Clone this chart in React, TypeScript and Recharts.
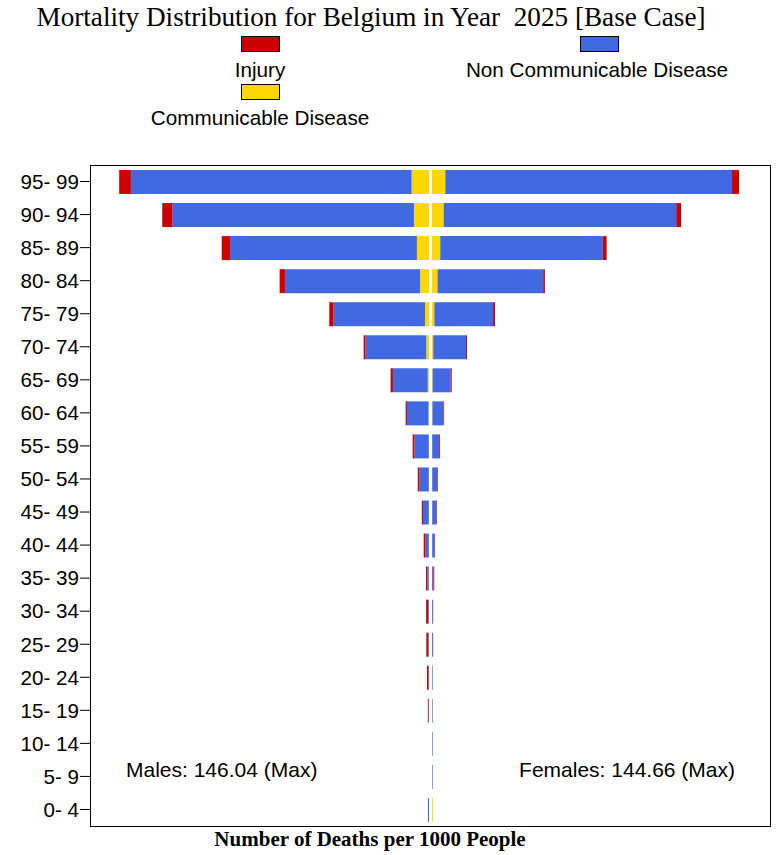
import { Bar, BarChart, XAxis, YAxis, Rectangle } from "recharts";

const ageGroups = [
  "95- 99", "90- 94", "85- 89", "80- 84", "75- 79", "70- 74", "65- 69",
  "60- 64", "55- 59", "50- 54", "45- 49", "40- 44", "35- 39", "30- 34",
  "25- 29", "20- 24", "15- 19", "10- 14", "5- 9", "0- 4",
];

// deaths per 1000, males
const maleInjury = [5.5, 4.7, 3.9, 2.5, 2.0, 0.9, 1.1, 0.6, 0.8, 0.8, 0.6, 0.8, 0.6, 0.9, 0.9, 0.7, 0.4, 0, 0, 0];
const maleNcd = [132.3, 113.9, 88.1, 63.7, 43.1, 28.6, 16.4, 10.2, 6.8, 4.4, 2.7, 1.6, 0.7, 0.4, 0.3, 0.2, 0.1, 0, 0, 0.5];
const maleComm = [8.2, 7.1, 5.7, 4.2, 1.9, 1.3, 0.6, 0.2, 0.1, 0.1, 0.1, 0.1, 0.1, 0.05, 0.05, 0.05, 0.05, 0, 0, 0];

// deaths per 1000, females
const femaleInjury = [3.3, 2.3, 1.8, 0.8, 0.9, 0.5, 0.5, 0.3, 0.4, 0.3, 0.3, 0.3, 0.4, 0.1, 0.1, 0, 0, 0, 0, 0];
const femaleNcd = [135.1, 109.6, 76.6, 49.8, 27.7, 15.4, 8.5, 5.2, 3.3, 2.4, 1.9, 1.0, 0.6, 0.4, 0.4, 0.3, 0.3, 0.3, 0.3, 0];
const femaleComm = [6.3, 5.5, 3.9, 2.6, 1.1, 0.6, 0.3, 0.2, 0.1, 0.1, 0.1, 0.1, 0.05, 0.05, 0.05, 0.05, 0.05, 0.05, 0.05, 0.4];

const data = ageGroups.map((age, i) => ({
  age,
  mComm: -maleComm[i],
  mNcd: -maleNcd[i],
  mInj: -maleInjury[i],
  fComm: femaleComm[i],
  fNcd: femaleNcd[i],
  fInj: femaleInjury[i],
}));

const RED = "#CC0000";
const BLUE = "#4169E1";
const YELLOW = "#FFD700";

const sans = "'Liberation Sans', Arial, sans-serif";
const serif = "'Liberation Serif', 'Times New Roman', serif";

// male bars nudged left, female right -> small white gap at the centre
const leftShape = (p: any) => <Rectangle {...p} x={p.x - 1.5} />;
const rightShape = (p: any) => <Rectangle {...p} x={p.x + 1.5} />;

const swatch = (left: number, top: number, color: string) => (
  <div
    style={{
      position: "absolute",
      left,
      top,
      width: 39,
      height: 16,
      background: color,
      border: "1px solid #000",
      boxSizing: "border-box",
    }}
  />
);

const label = (text: string, center: number, top: number) => (
  <div
    style={{
      position: "absolute",
      left: center - 200,
      width: 400,
      top,
      textAlign: "center",
      fontFamily: sans,
      fontSize: 20.7,
      lineHeight: "20px",
    }}
  >
    {text}
  </div>
);

export default function App() {
  return (
    <div
      style={{
        position: "absolute",
        left: 0,
        top: 0,
        width: 778,
        height: 855,
        background: "#fff",
        overflow: "hidden",
      }}
    >
      <BarChart
        width={778}
        height={855}
        data={data}
        layout="vertical"
        stackOffset="sign"
        margin={{ top: 165, right: 8, bottom: 29, left: 0 }}
      >
        <XAxis type="number" domain={[-160, 160]} hide />
        <YAxis
          type="category"
          dataKey="age"
          width={91}
          interval={0}
          axisLine={false}
          tickSize={11}
          tickMargin={1}
          tickLine={{ stroke: "#000" }}
          tick={{ fill: "#000", fontSize: 20.6, fontFamily: sans }}
        />
        <Bar dataKey="mComm" stackId="a" fill={YELLOW} barSize={24} shape={leftShape} isAnimationActive={false} />
        <Bar dataKey="mNcd" stackId="a" fill={BLUE} barSize={24} shape={leftShape} isAnimationActive={false} />
        <Bar dataKey="mInj" stackId="a" fill={RED} barSize={24} shape={leftShape} isAnimationActive={false} />
        <Bar dataKey="fComm" stackId="a" fill={YELLOW} barSize={24} shape={rightShape} isAnimationActive={false} />
        <Bar dataKey="fNcd" stackId="a" fill={BLUE} barSize={24} shape={rightShape} isAnimationActive={false} />
        <Bar dataKey="fInj" stackId="a" fill={RED} barSize={24} shape={rightShape} isAnimationActive={false} />
      </BarChart>

      {/* plot frame */}
      <div
        style={{
          position: "absolute",
          left: 90,
          top: 165,
          width: 681,
          height: 662,
          border: "1px solid #000",
          boxSizing: "border-box",
          pointerEvents: "none",
        }}
      />

      <div
        style={{
          position: "absolute",
          left: 0,
          width: 742,
          top: 2,
          textAlign: "center",
          fontFamily: serif,
          fontSize: 27.2,
          lineHeight: "30px",
          whiteSpace: "pre",
        }}
      >
        {"Mortality Distribution for Belgium in Year  2025 [Base Case]"}
      </div>

      {swatch(241, 36, RED)}
      {swatch(580, 36, BLUE)}
      {swatch(241, 84, YELLOW)}
      {label("Injury", 260, 60)}
      {label("Non Communicable Disease", 597, 60)}
      {label("Communicable Disease", 260, 108)}

      <div
        style={{
          position: "absolute",
          left: 126,
          top: 759,
          fontFamily: sans,
          fontSize: 21,
          lineHeight: "21px",
          whiteSpace: "nowrap",
        }}
      >
        Males: 146.04 (Max)
      </div>
      <div
        style={{
          position: "absolute",
          right: 778 - 735,
          top: 759,
          fontFamily: sans,
          fontSize: 21,
          lineHeight: "21px",
          whiteSpace: "nowrap",
          textAlign: "right",
        }}
      >
        Females: 144.66 (Max)
      </div>

      <div
        style={{
          position: "absolute",
          left: 0,
          width: 740,
          top: 828,
          textAlign: "center",
          fontFamily: serif,
          fontWeight: "bold",
          fontSize: 21,
          lineHeight: "22px",
        }}
      >
        Number of Deaths per 1000 People
      </div>
    </div>
  );
}
